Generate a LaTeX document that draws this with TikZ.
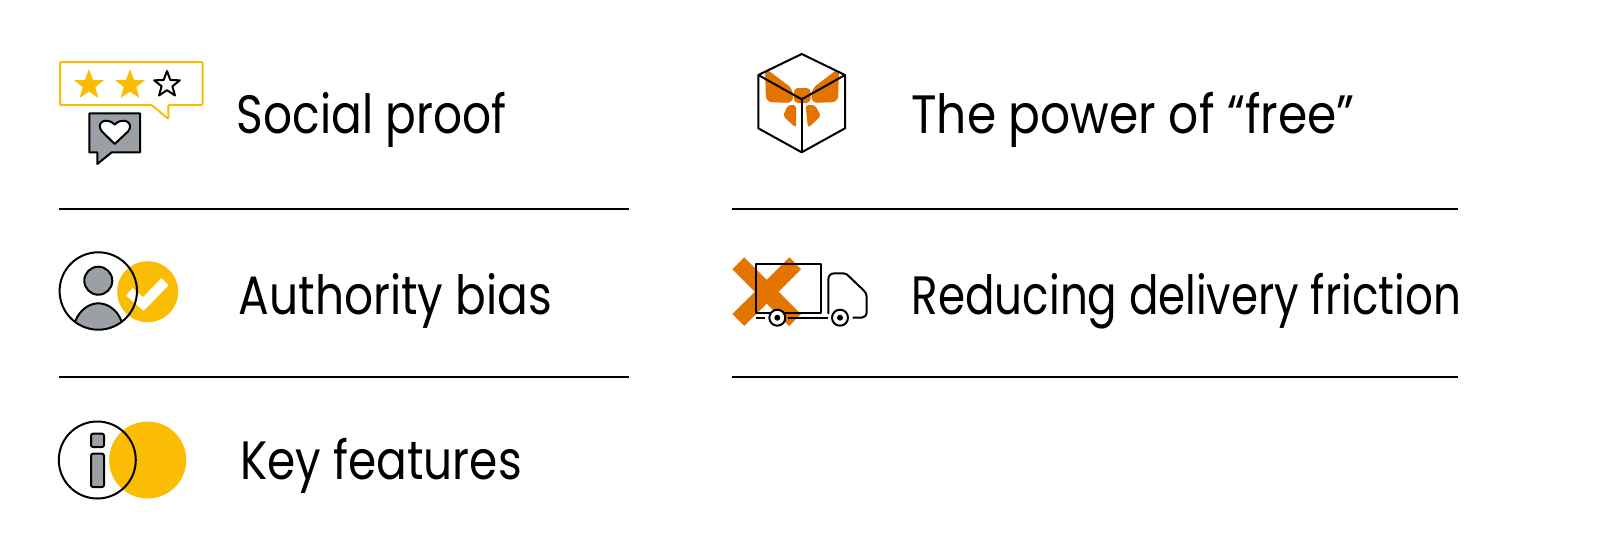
\documentclass[tikz,border=0pt]{standalone}
\usepackage{fontspec}
\setmainfont{Poppins}[FakeStretch=0.85]
\usetikzlibrary{calc}
\definecolor{gyellow}{HTML}{FBBC04}
\definecolor{ggray}{HTML}{9AA0A6}
\definecolor{gorange}{HTML}{E37400}
\tikzstyle{caption} = [anchor=base west, inner sep=0pt, font=\fontsize{27}{32}\selectfont]
\tikzstyle{rule} = [line width=0.95]
\tikzstyle{icon} = [line width=1, line join=round]
\newcommand{\starpath}[3]{% centre x, centre y, radius
  (#1+0,#2-#3) -- (#1+0.25*#3,#2-0.33*#3) -- (#1+0.95*#3,#2-0.31*#3) -- (#1+0.40*#3,#2+0.13*#3)
  -- (#1+0.59*#3,#2+0.81*#3) -- (#1+0,#2+0.42*#3) -- (#1-0.59*#3,#2+0.81*#3)
  -- (#1-0.40*#3,#2+0.13*#3) -- (#1-0.95*#3,#2-0.31*#3) -- (#1-0.25*#3,#2-0.33*#3) -- cycle}
\begin{document}
\begin{tikzpicture}[x=0.5pt, y=-0.5pt]
        \useasboundingbox (0,0) rectangle (1600,547);

        % social proof
        \draw [icon, gyellow, rounded corners=0.5] (60,62) -- (202.7,62) -- (202.7,105) -- (168.3,105) -- (168.3,119) -- (151.7,105) -- (60,105) -- cycle;
        \fill [gyellow] \starpath{89}{85}{15.8};
        \fill [gyellow] \starpath{130}{85}{15.8};
        \draw [icon] \starpath{167}{84.5}{13.5};
        \draw [icon, fill=ggray] (89.3,113.3) -- (140,113.3) -- (140,152.3) -- (111.7,152.3) -- (97.3,164) -- (97.3,152.3) -- (89.3,152.3) -- cycle;
        \draw [icon, fill=white] (114.7,144) -- (102,131.5) .. controls (95,123) and (106,116) .. (114.7,124.5) .. controls (123,116) and (135,123) .. (128,131.5) -- cycle;

        % free gift
        \fill [gorange, rounded corners=3] (765,68) -- (793,89) -- (793,103) -- (766,102) -- cycle;
        \fill [gorange, rounded corners=3] (839,68) -- (811.5,89) -- (811.5,103) -- (838,102) -- cycle;
        \fill [gorange, rounded corners=2] (794,88) rectangle (810.5,103);
        \fill [gorange, rounded corners=1.5] (796,105) -- (796,128) -- (783,116) -- (788,105) -- cycle;
        \fill [gorange, rounded corners=1.5] (805.5,105) -- (808,128) -- (821,116) -- (815,105) -- cycle;
        \draw [icon] (801.7,54) -- (845,75) -- (845,128.3) -- (801.7,152.3) -- (758.3,128.3) -- (758.3,75) -- cycle;
        \draw [icon] (758.3,75) -- (801.7,99.3) -- (845,75);
        \draw [icon] (801.7,99.3) -- (801.7,152.3);

        % authority
        \fill [gyellow] (147.7,291.7) circle (30.5);
        \draw [line width=5, white] (129.3,291.7) -- (143.3,304) -- (165,281.7);
        \begin{scope}
          \clip (98.3,291) circle (38.7);
          \draw [icon, fill=ggray] (75,325) -- (75,321.7) .. controls (80,309) and (90,303.3) .. (98.3,303.3) .. controls (107,303.3) and (117,309) .. (121.7,321.7) -- (121.7,335) -- (75,335) -- cycle;
        \end{scope}
        \draw [icon] (98.3,291) circle (38.7);
        \draw [icon, fill=ggray] (98.3,280.7) circle (14);

        % delivery
        \draw [line width=8.4, gorange] (738.3,263.3) -- (795,320);
        \draw [line width=8.4, gorange] (795.3,263.3) -- (738.3,320);
        \draw [icon] (755.7,264) rectangle (821,313);
        \draw [icon, line cap=round] (828.3,313.3) -- (828.3,280) .. controls (828.3,275) and (831,273.3) .. (835,273.3) -- (843.3,273.3) .. controls (846,273.3) and (848,275) .. (849.3,276.7) -- (863.3,290) .. controls (865.5,292) and (866.7,294) .. (866.7,297) -- (866.7,311.7) .. controls (866.7,315.5) and (864.5,317.7) .. (861.7,317.7) -- (853.3,317.7);
        \draw [icon] (755.7,317.7) -- (765,317.7);
        \draw [icon] (788.3,317.7) -- (828.3,317.7);
        \draw [icon, fill=white] (777.3,317.7) circle (8);
        \fill (777.3,317.7) circle (3);
        \draw [icon, fill=white] (840,317.7) circle (8);
        \fill (840,317.7) circle (3);

        % key features
        \fill [gyellow] (147.7,460) circle (38.5);
        \draw [icon] (97.3,460) circle (38.5);
        \draw [icon, fill=ggray, rounded corners=1] (91,433.7) rectangle (104,447);
        \draw [icon, fill=ggray, rounded corners=1] (91,453.7) rectangle (104,487);

        \node at (236.5,133) [caption](social) {\scalebox{0.99}[1]{Social proof}};
        \node at (911,133) [caption](free) {\scalebox{1.027}[1]{The power of “free”}};
        \node at (238.5,314) [caption](authority) {\scalebox{0.99}[1]{Authority bias}};
        \node at (911.5,314) [caption](delivery) {\scalebox{0.95}[1]{Reducing delivery friction}};
        \node at (240,479) [caption](features) {\scalebox{0.99}[1]{Key features}};

        \draw [rule] (59,209) -- (629,209);
        \draw [rule] (59,377) -- (629,377);
        \draw [rule] (732,209) -- (1458,209);
        \draw [rule] (732,377) -- (1458,377);
\end{tikzpicture}
\end{document}
